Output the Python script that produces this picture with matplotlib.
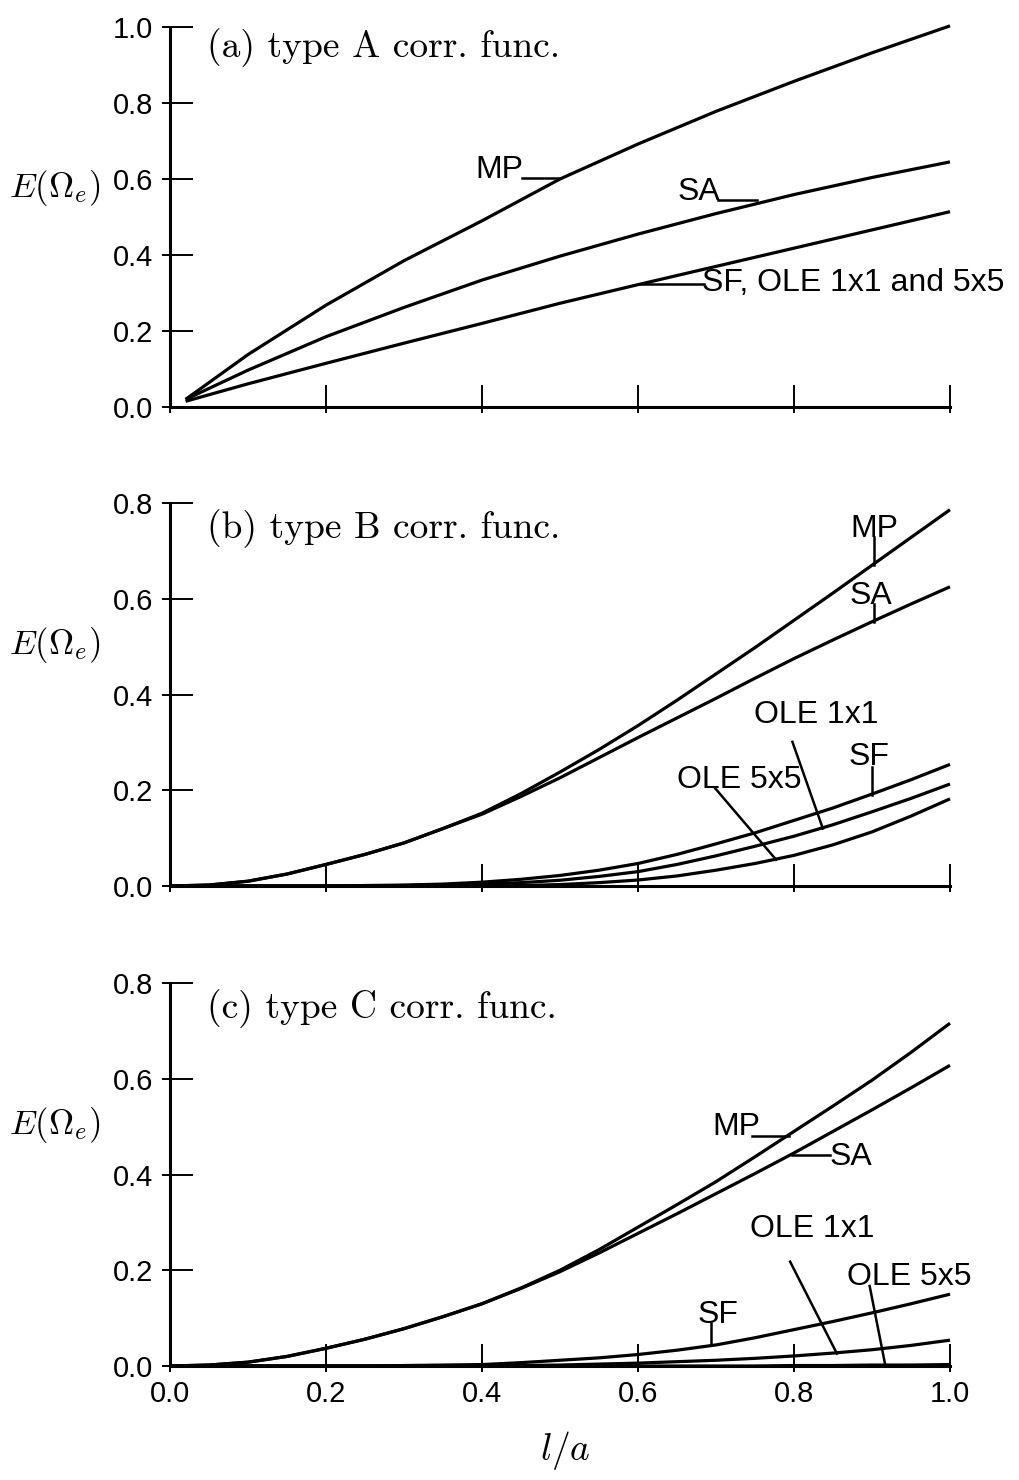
import matplotlib
matplotlib.use("Agg")
import matplotlib.pyplot as plt
from matplotlib.ticker import FixedLocator, FormatStrFormatter

plt.rcParams['mathtext.fontset'] = 'cm'
plt.rcParams['font.family'] = ['Liberation Sans', 'DejaVu Sans']

# ---------------- data ----------------
# panel (a): type A correlation function
xa = [0.02, 0.1, 0.2, 0.3, 0.4, 0.5, 0.6, 0.7, 0.8, 0.9, 1.0]
a_mp = [0.02, 0.138, 0.268, 0.385, 0.49, 0.60, 0.692, 0.778, 0.857, 0.932, 1.003]
a_sa = [0.02, 0.097, 0.185, 0.262, 0.334, 0.397, 0.455, 0.509, 0.559, 0.604, 0.645]
a_sf = [0.015, 0.061, 0.115, 0.168, 0.22, 0.273, 0.322, 0.37, 0.418, 0.466, 0.514]

# panels (b) and (c) share the l/a grid
xg = [0.0, 0.05, 0.1, 0.15, 0.2, 0.25, 0.3, 0.35, 0.4, 0.45, 0.5,
      0.55, 0.6, 0.65, 0.7, 0.75, 0.8, 0.85, 0.9, 0.95, 1.0]

# panel (b): type B correlation function
b_mp = [0.0, 0.002, 0.01, 0.025, 0.045, 0.066, 0.09, 0.12, 0.152, 0.193, 0.238,
        0.285, 0.335, 0.388, 0.443, 0.498, 0.555, 0.612, 0.67, 0.728, 0.786]
b_sa = [0.0, 0.002, 0.01, 0.025, 0.045, 0.066, 0.09, 0.12, 0.150, 0.187, 0.226,
        0.268, 0.31, 0.351, 0.392, 0.434, 0.475, 0.514, 0.552, 0.589, 0.625]
b_sf = [0.0, 0.0, 0.0, 0.0, 0.0, 0.001, 0.002, 0.004, 0.008, 0.014, 0.022,
        0.033, 0.047, 0.066, 0.088, 0.111, 0.137, 0.163, 0.192, 0.222, 0.254]
b_ole1 = [0.0, 0.0, 0.0, 0.0, 0.0, 0.0, 0.001, 0.002, 0.004, 0.007, 0.012,
          0.02, 0.030, 0.045, 0.063, 0.083, 0.104, 0.128, 0.155, 0.183, 0.213]
b_ole5 = [0.0, 0.0, 0.0, 0.0, 0.0, 0.0, 0.0, 0.0, 0.0, 0.001, 0.003,
          0.007, 0.0125, 0.021, 0.033, 0.047, 0.064, 0.086, 0.113, 0.146, 0.182]

# panel (c): type C correlation function
c_mp = [0.0, 0.002, 0.008, 0.02, 0.037, 0.056, 0.078, 0.103, 0.13, 0.163, 0.2,
        0.243, 0.29, 0.337, 0.385, 0.437, 0.49, 0.543, 0.597, 0.655, 0.716]
c_sa = [0.0, 0.002, 0.008, 0.02, 0.037, 0.056, 0.078, 0.103, 0.13, 0.162, 0.197,
        0.236, 0.277, 0.318, 0.36, 0.402, 0.445, 0.49, 0.535, 0.581, 0.628]
c_sf = [0.0, 0.0, 0.0, 0.0, 0.0, 0.0, 0.001, 0.002, 0.003, 0.007, 0.012,
        0.017, 0.024, 0.033, 0.044, 0.059, 0.076, 0.093, 0.111, 0.130, 0.150]
c_ole1 = [0.0, 0.0, 0.0, 0.0, 0.0, 0.0, 0.0, 0.0, 0.0, 0.001, 0.002,
          0.004, 0.006, 0.009, 0.012, 0.016, 0.021, 0.027, 0.034, 0.043, 0.054]
c_ole5 = [0.0, 0.0, 0.0, 0.0, 0.0, 0.0, 0.0, 0.0, 0.0, 0.0, 0.0,
          0.0, 0.0, 0.0, 0.0, 0.0, 0.001, 0.001, 0.002, 0.002, 0.003]

xticks = [0.0, 0.2, 0.4, 0.6, 0.8, 1.0]
yticks_a = [0.0, 0.2, 0.4, 0.6, 0.8, 1.0]
yticks_bc = [0.0, 0.2, 0.4, 0.6, 0.8]
titles = ['(a) type A corr. func.', '(b) type B corr. func.', '(c) type C corr. func.']

# ---------------- figure ----------------
fig = plt.figure(figsize=(10.19, 14.8), dpi=100)
L, W = 170 / 1019, 780 / 1019
ax_a = fig.add_axes([L, 1 - 407 / 1480, W, 380 / 1480])
ax_b = fig.add_axes([L, 1 - 886 / 1480, W, 383 / 1480])
ax_c = fig.add_axes([L, 1 - 1366 / 1480, W, 383 / 1480])

LW = 2.3
LLW = 1.8
TFS = 21
LFS = 23
TITFS = 27
YLFS = 25


def style(ax, yticks, ymax, show_x):
    ax.set_xlim(0, 1.0)
    ax.set_ylim(0, ymax)
    for s in ['top', 'right']:
        ax.spines[s].set_visible(False)
    for s in ['left', 'bottom']:
        ax.spines[s].set_linewidth(2.2)
    ax.xaxis.set_major_locator(FixedLocator(xticks))
    ax.xaxis.set_minor_locator(FixedLocator(xticks))
    ax.yaxis.set_major_locator(FixedLocator(yticks))
    ax.yaxis.set_minor_locator(FixedLocator(yticks))
    ax.xaxis.remove_overlapping_locs = False
    ax.yaxis.remove_overlapping_locs = False
    ax.tick_params(axis='y', which='major', direction='in', length=16.5, width=1.4, pad=12, labelsize=TFS)
    ax.tick_params(axis='y', which='minor', direction='out', length=5.8, width=1.4)
    ax.tick_params(axis='x', which='major', direction='in', length=16, width=1.4, pad=10, labelsize=TFS)
    ax.tick_params(axis='x', which='minor', direction='out', length=4.5, width=1.4)
    ax.yaxis.set_major_formatter(FormatStrFormatter('%.1f'))
    ax.xaxis.set_major_formatter(FormatStrFormatter('%.1f'))
    if not show_x:
        ax.tick_params(axis='x', which='major', labelbottom=False)


def curve(ax, x, y):
    ax.plot(x, y, color='black', lw=LW, clip_on=False, solid_capstyle='butt',
            solid_joinstyle='round')


def leader(ax, xs, ys):
    ax.plot(xs, ys, color='black', lw=LLW, clip_on=False)


# panel a
style(ax_a, yticks_a, 1.0, False)
for y in (a_mp, a_sa, a_sf):
    curve(ax_a, xa, y)
ax_a.text(0.047, 0.947, titles[0], family='cmr10', fontsize=TITFS, ha='left', va='center')
leader(ax_a, [0.451, 0.5], [0.602, 0.602])
ax_a.text(0.453, 0.602, 'MP', fontsize=LFS, ha='right', va='baseline')
leader(ax_a, [0.703, 0.752], [0.545, 0.545])
ax_a.text(0.705, 0.545, 'SA', fontsize=LFS, ha='right', va='baseline')
leader(ax_a, [0.603, 0.684], [0.325, 0.325])
ax_a.text(0.682, 0.327, 'SF, OLE 1x1 and 5x5', fontsize=LFS, ha='left', va='center')
ax_a.set_ylabel(r'$E(\Omega_e)$', rotation=0, fontsize=YLFS, ha='right', va='center')
ax_a.yaxis.set_label_coords(-0.0897, 0.576)

# panel b
style(ax_b, yticks_bc, 0.8, False)
for y in (b_mp, b_sa, b_sf, b_ole1, b_ole5):
    curve(ax_b, xg, y)
ax_b.text(0.047, 0.747, titles[1], family='cmr10', fontsize=TITFS, ha='left', va='center')
leader(ax_b, [0.902, 0.902], [0.729, 0.67])
ax_b.text(0.903, 0.729, 'MP', fontsize=LFS, ha='center', va='baseline')
leader(ax_b, [0.902, 0.902], [0.59, 0.552])
ax_b.text(0.899, 0.59, 'SA', fontsize=LFS, ha='center', va='baseline')
leader(ax_b, [0.798, 0.837], [0.301, 0.12])
ax_b.text(0.828, 0.340, 'OLE 1x1', fontsize=LFS, ha='center', va='baseline')
leader(ax_b, [0.9, 0.9], [0.249, 0.19])
ax_b.text(0.896, 0.252, 'SF', fontsize=LFS, ha='center', va='baseline')
leader(ax_b, [0.699, 0.777], [0.204, 0.055])
ax_b.text(0.73, 0.204, 'OLE 5x5', fontsize=LFS, ha='center', va='baseline')
ax_b.set_ylabel(r'$E(\Omega_e)$', rotation=0, fontsize=YLFS, ha='right', va='center')
ax_b.yaxis.set_label_coords(-0.0897, 0.629)

# panel c
style(ax_c, yticks_bc, 0.8, True)
for y in (c_mp, c_sa, c_sf, c_ole1, c_ole5):
    curve(ax_c, xg, y)
ax_c.text(0.047, 0.747, titles[2], family='cmr10', fontsize=TITFS, ha='left', va='center')
leader(ax_c, [0.746, 0.793], [0.481, 0.481])
ax_c.text(0.757, 0.482, 'MP', fontsize=LFS, ha='right', va='baseline')
leader(ax_c, [0.797, 0.846], [0.44, 0.44])
ax_c.text(0.845, 0.437, 'SA', fontsize=LFS, ha='left', va='center')
leader(ax_c, [0.795, 0.855], [0.218, 0.026])
ax_c.text(0.824, 0.27, 'OLE 1x1', fontsize=LFS, ha='center', va='baseline')
leader(ax_c, [0.897, 0.917], [0.167, 0.002])
ax_c.text(0.948, 0.169, 'OLE 5x5', fontsize=LFS, ha='center', va='baseline')
leader(ax_c, [0.694, 0.694], [0.089, 0.044])
ax_c.text(0.703, 0.09, 'SF', fontsize=LFS, ha='center', va='baseline')
ax_c.set_ylabel(r'$E(\Omega_e)$', rotation=0, fontsize=YLFS, ha='right', va='center')
ax_c.yaxis.set_label_coords(-0.0897, 0.629)

fig.text(565 / 1019, 1 - 1450 / 1480, r'$l/a$', fontsize=27, ha='center', va='center')

fig.savefig('out.png', dpi=100)
